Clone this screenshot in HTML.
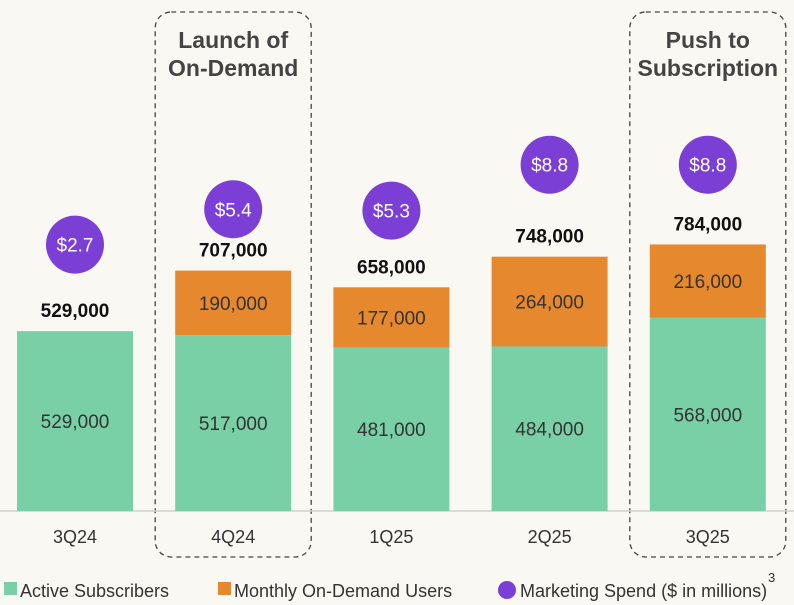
<!DOCTYPE html>
<html><head><meta charset="utf-8"><style>
body{margin:0;background:#faf8f3;font-family:"Liberation Sans",sans-serif;}
svg{display:block}
</style></head><body>
<svg id="chart" width="794" height="605">
<rect width="794" height="605" fill="#faf8f3"/>
<g id="boxes"></g>
<line x1="0" y1="511" x2="794" y2="511" stroke="#cfcfcf" stroke-width="1.5"/>
<g id="bars"></g>
<g font-size="18" fill="#333">
<rect x="4" y="582" width="13" height="13" fill="#7ad0a6"/>
<text x="20" y="597">Active Subscribers</text>
<rect x="218" y="582" width="13" height="13" fill="#e5882e"/>
<text x="234" y="597">Monthly On-Demand Users</text>
<circle cx="507" cy="590" r="9" fill="#7b3fd6"/>
<text x="520" y="597">Marketing Spend ($ in millions)</text>
<text x="768" y="582" font-size="13">3</text>
</g>
</svg>
<script>
const categories=["3Q24","4Q24","1Q25","2Q25","3Q25"];
const active=[529000,517000,481000,484000,568000];
const onDemand=[0,190000,177000,264000,216000];
const spend=[2.7,5.4,5.3,8.8,8.8];
const highlights=[{idx:1,lines:["Launch of","On-Demand"]},{idx:4,lines:["Push to","Subscription"]}];
const NS="http://www.w3.org/2000/svg";
const base=511, k=0.00034;
const xC=i=>75+i*158.2;
const yV=v=>base-v*k;
const yS=s=>280-s*13.1;
const fmt=v=>v.toLocaleString("en-US");
function mk(tag,attrs,parent,text){const e=document.createElementNS(NS,tag);for(const a in attrs)e.setAttribute(a,attrs[a]);if(text!=null)e.textContent=text;parent.appendChild(e);return e;}
const bars=document.getElementById("bars"),boxes=document.getElementById("boxes");
highlights.forEach(h=>{
 const cx=xC(h.idx);
 const r=mk("rect",{x:cx-78,y:12,width:156,height:545,rx:16,fill:"none",stroke:"#444","stroke-width":1.3,"stroke-dasharray":"5,4"},boxes);
 
 
 h.lines.forEach((l,j)=>{const t=mk("text",{x:cx,y:48+j*28,"text-anchor":"middle","font-size":23,"font-weight":"bold",fill:"#444"},boxes,l);
 
 });
});
categories.forEach((c,i)=>{
 const cx=xC(i),w=116,x=cx-w/2;
 const ya=yV(active[i]);
 const ra=mk("rect",{x:x,y:ya,width:w,height:base-ya,fill:"#7ad0a6"},bars);
 
 
 const ta=mk("text",{x:cx,y:(ya+base)/2+7,"text-anchor":"middle","font-size":19,fill:"#333"},bars,fmt(active[i]));
 
 
 let top=ya;
 if(onDemand[i]>0){
  const yo=yV(active[i]+onDemand[i]);
  const ro=mk("rect",{x:x,y:yo,width:w,height:ya-yo,fill:"#e5882e"},bars);
  
  
  const to=mk("text",{x:cx,y:(yo+ya)/2+7,"text-anchor":"middle","font-size":19,fill:"#333"},bars,fmt(onDemand[i]));
  
  
  top=yo;
 }
 const tt=mk("text",{x:cx,y:top-14,"text-anchor":"middle","font-size":19,"font-weight":"bold",fill:"#111"},bars,fmt(active[i]+onDemand[i]));
 
 
 const cy=yS(spend[i]);
 const ci=mk("circle",{cx:cx,cy:cy,r:29,fill:"#7b3fd6"},bars);
 
 
 const ct=mk("text",{x:cx,y:cy+7,"text-anchor":"middle","font-size":19,fill:"#fff"},bars,"$"+spend[i]);
 
 
 const xl=mk("text",{x:cx,y:543,"text-anchor":"middle","font-size":18,fill:"#333"},bars,c);
 
 
});
</script>
</body></html>
